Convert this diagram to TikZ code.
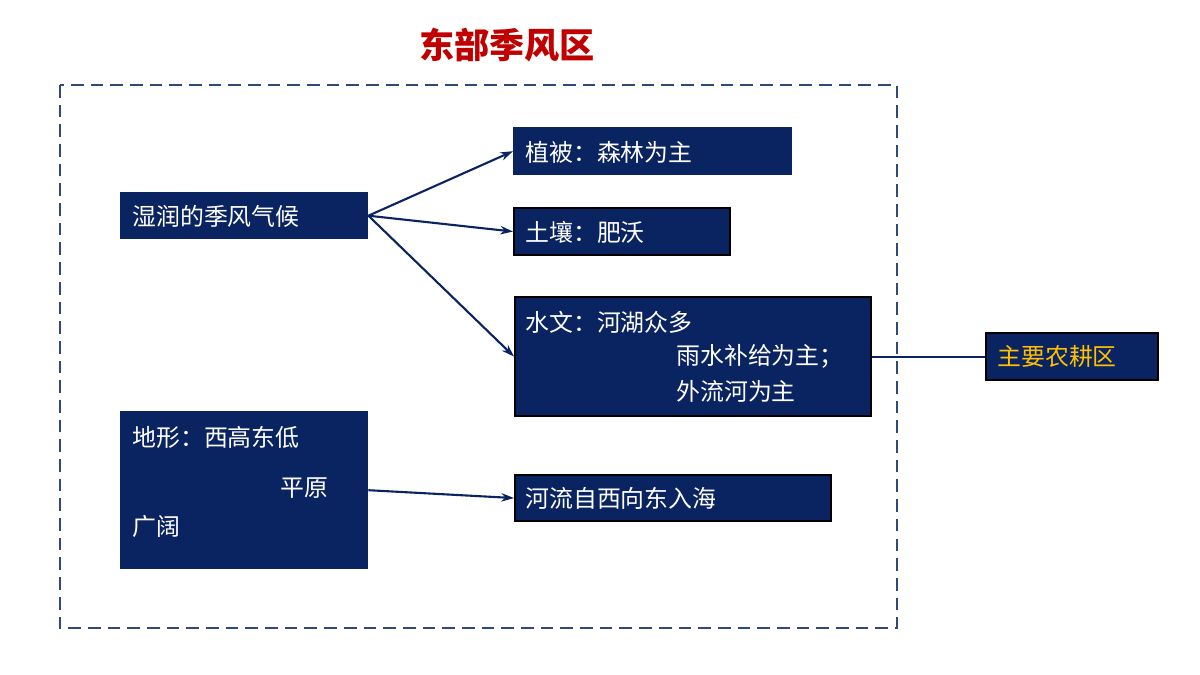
\documentclass[tikz,border=0pt]{standalone}
\usepackage{fontspec}
\setmainfont{Noto Sans CJK SC}
\usetikzlibrary{arrows.meta}
\definecolor{navy}{HTML}{0A2361}
\definecolor{frameblue}{HTML}{2E4A7A}
\definecolor{titlered}{HTML}{C00000}
\definecolor{gold}{HTML}{FFC000}
\tikzset{
  box/.style={fill=navy, draw=navy, line width=1pt, anchor=north west, inner sep=0pt},
  edged/.style={draw=black, line width=1.5pt},
  txt/.style={text=white, anchor=west, inner sep=0pt, font=\fontsize{17}{20}\selectfont},
  conn/.style={draw=navy, line width=1.5pt, -{Stealth[length=9pt,width=6pt]}}
}
\begin{document}
\begin{tikzpicture}[x=0.025cm,y=-0.025cm]
  \useasboundingbox (0,0) rectangle (1200,675);

  \node[text=titlered, font=\bfseries\fontsize{25}{30}\selectfont] (title) at (507,45) {东部季风区};
  \draw[frameblue, line width=1.5pt, dash pattern=on 9pt off 5pt] (60,85) rectangle (897,628);

  % boxes
  \node[box, minimum width=247*0.025cm, minimum height=46*0.025cm] (climate) at (120,192) {};
  \node[box, minimum width=278*0.025cm, minimum height=47*0.025cm] (veg) at (513,127) {};
  \node[box, edged, minimum width=216*0.025cm, minimum height=47*0.025cm] (soil) at (513,207) {};
  \node[box, edged, minimum width=356*0.025cm, minimum height=119*0.025cm] (water) at (514,296) {};
  \node[box, minimum width=247*0.025cm, minimum height=157*0.025cm] (terrain) at (120,411) {};
  \node[box, edged, minimum width=316*0.025cm, minimum height=46*0.025cm] (river) at (514,474) {};
  \node[box, edged, minimum width=172*0.025cm, minimum height=47*0.025cm] (farm) at (985,332) {};

  % texts
  \node[txt] (climatet) at (132,216) {湿润的季风气候};
  \node[txt] (vegt) at (525,152) {植被：森林为主};
  \node[txt] (soilt) at (525,232) {土壤：肥沃};
  \node[txt] (water1) at (525,322) {水文：河湖众多};
  \node[txt] (water2) at (676,356) {雨水补给为主；};
  \node[txt] (water3) at (676,391) {外流河为主};
  \node[txt] (terr1) at (132,437) {地形：西高东低};
  \node[txt] (terr2) at (280,488) {平原};
  \node[txt] (terr3) at (132,527) {广阔};
  \node[txt] (rivert) at (525,498) {河流自西向东入海};
  \node[txt, text=gold] (farmt) at (997,356) {主要农耕区};

  % connectors
  \draw[conn] (climate.east) -- (veg.west);
  \draw[conn] (climate.east) -- (soil.west);
  \draw[conn] (climate.east) -- (water.west);
  \draw[conn] (terrain.east) -- (river.west);
  \draw[navy, line width=1.5pt] (water.east) -- (farm.west);
\end{tikzpicture}
\end{document}
